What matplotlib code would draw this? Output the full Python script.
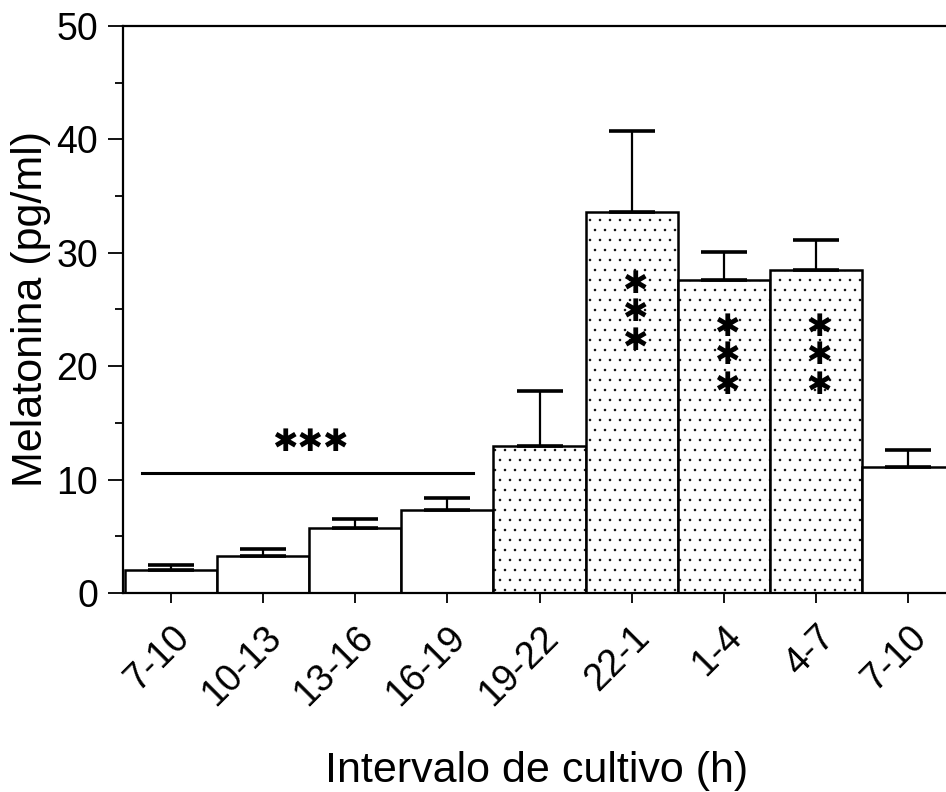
#!/usr/bin/env python3
"""Melatonina por intervalo de cultivo (barras con error superior)."""

import numpy as np
import matplotlib
matplotlib.use('Agg')
import matplotlib.pyplot as plt
import matplotlib.hatch as mhatch
from matplotlib.transforms import ScaledTranslation

intervalos = ['7-10', '10-13', '13-16', '16-19', '19-22', '22-1', '1-4', '4-7', '7-10']
melatonina = [2.0, 3.3, 5.7, 7.35, 13.0, 33.6, 27.6, 28.5, 11.1]
error_sup = [0.5, 0.55, 0.85, 1.05, 4.8, 7.1, 2.5, 2.6, 1.55]
punteado = [False, False, False, False, True, True, True, True, False]

# significance marks
sig_linea_y = 10.6
sig_linea_x = (-0.31, 3.28)
sig_texto_pos = (1.51, 13.3)
sig_barras = [5, 6, 7]
sig_barras_y = [[27.2, 24.7, 22.2], [23.4, 20.9, 18.3], [23.4, 20.9, 18.3]]


# finer dot pattern than the default '.' hatch
class PuntosFinos(mhatch.Circles):
    size = 0.09
    filled = True

    def __init__(self, hatch, density):
        self.num_rows = hatch.count('.') * 10
        super().__init__(hatch, density)


mhatch._hatch_types[mhatch._hatch_types.index(mhatch.SmallFilledCircles)] = PuntosFinos

plt.rcParams.update({
    'font.family': ['Liberation Sans', 'DejaVu Sans'],
    'hatch.linewidth': 0.5,
    'hatch.color': 'black',
})

fig = plt.figure(figsize=(9.46, 7.92), dpi=100)
ax = fig.add_axes([0.130, 0.2513, 0.870, 0.7159])

x = np.arange(len(intervalos))
for i in range(len(x)):
    ax.bar(x[i], melatonina[i], width=1.0, color='white', edgecolor='black',
           linewidth=1.8, hatch='.' if punteado[i] else None, zorder=2)
ax.errorbar(x, melatonina, yerr=[np.zeros(len(x)), error_sup], fmt='none',
            ecolor='black', elinewidth=1.6, capsize=16.5, capthick=2.6, zorder=3)

# "***" over the first four intervals
ax.plot(sig_linea_x, [sig_linea_y, sig_linea_y], color='black', lw=2.2, zorder=3)
ax.text(sig_texto_pos[0], sig_texto_pos[1], '\u2731\u2731\u2731', family='DejaVu Sans',
        fontsize=22, ha='center', va='center', zorder=4)
for b, ys in zip(sig_barras, sig_barras_y):
    for y in ys:
        ax.text(x[b] + 0.03, y, '\u2731', family='DejaVu Sans', fontsize=22,
                ha='center', va='center', zorder=4)

ax.set_xlim(-0.52, 8.41)
ax.set_ylim(0, 50)
ax.set_yticks(np.arange(0, 51, 10))
ax.set_yticks(np.arange(5, 50, 10), minor=True)
ax.set_xticks(x)
ax.set_xticklabels(intervalos, rotation=45, ha='right', va='top',
                   rotation_mode='anchor', fontsize=27)
offset = ScaledTranslation(19 / 72, 0, fig.dpi_scale_trans)
for lbl in ax.get_xticklabels():
    lbl.set_transform(lbl.get_transform() + offset)

ax.tick_params(axis='y', which='major', length=11, width=1.3, labelsize=27, pad=7)
ax.tick_params(axis='y', which='minor', length=5.5, width=1.3)
ax.tick_params(axis='x', which='major', length=7, width=1.3, pad=12)

ax.spines['right'].set_visible(False)
for s in ['left', 'top', 'bottom']:
    ax.spines[s].set_linewidth(1.6)

ax.set_ylabel('Melatonina (pg/ml)', fontsize=31, labelpad=4)
ax.set_xlabel('Intervalo de cultivo (h)', fontsize=31)
ax.xaxis.set_label_coords(0.503, -0.279)

fig.savefig('out.png', dpi=100)
